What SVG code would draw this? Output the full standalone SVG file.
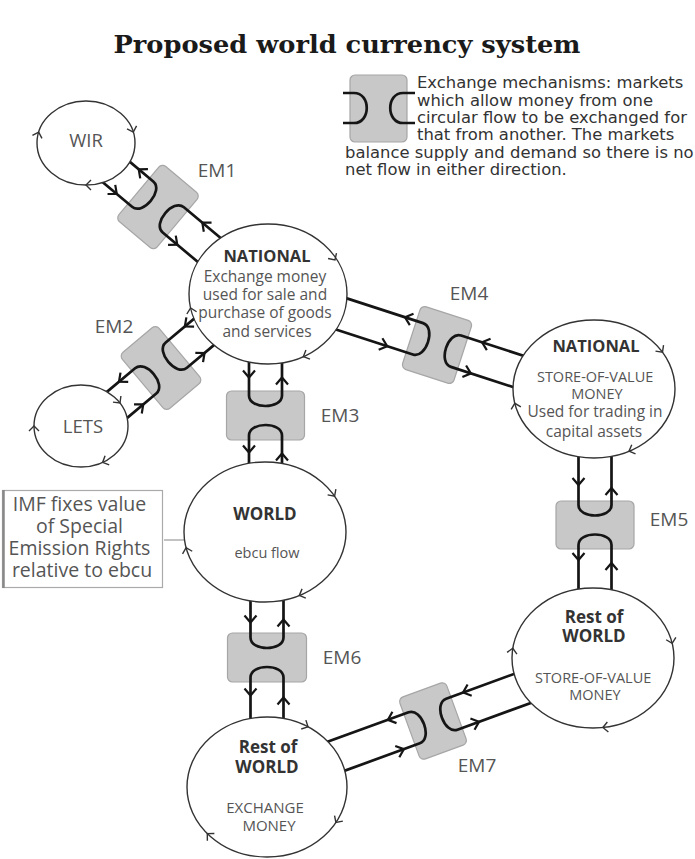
<svg xmlns="http://www.w3.org/2000/svg" xmlns:xlink="http://www.w3.org/1999/xlink" width="695" height="859" viewBox="0 0 695 859">
  <style>
    .ring { fill: #fff; stroke: #333; stroke-width: 1.4; }
    .box { fill: #c8c8c8; stroke: #a6a6a6; stroke-width: 1.2; }
    .ch { fill: none; stroke: #151515; stroke-width: 2.7; stroke-linejoin: round; }
    .t { font-family: "Open Sans", "Noto Sans", sans-serif; text-anchor: middle; fill: #555; }
    .b { font-weight: bold; fill: #333; }
    .em { font-size: 19px; fill: #555; }
    .leg { font-family: "DejaVu Sans", Verdana, sans-serif; font-size: 16.4px; fill: #333; }
  </style>
  <defs>
    <!-- channel chevrons: down (+y) and up (-y) -->
    <path id="cd" d="M-6,-7 L0,0 L6,-7" fill="none" stroke="#151515" stroke-width="2.2"/>
    <path id="cu" d="M-6,7 L0,0 L6,7" fill="none" stroke="#151515" stroke-width="2.2"/>
    <!-- circulation chevron on the rings, pointing +y before rotation -->
    <path id="rc" d="M-5,-5 L0,0 L5,-5" fill="none" stroke="#333" stroke-width="1.4"/>
  </defs>

  <rect width="695" height="859" fill="#fff"/>

  <!-- title -->
  <text x="347" y="53" text-anchor="middle" font-family="'DejaVu Serif', 'Liberation Serif', serif" font-weight="bold" font-size="25" fill="#1a1a1a" textLength="467" lengthAdjust="spacingAndGlyphs">Proposed world currency system</text>

  <!-- exchange mechanism boxes -->
  <g id="em1">
    <rect class="box" x="-36" y="-25" width="72" height="50" rx="5" transform="translate(158,207) rotate(-50)"/>
    <text class="t em" x="217" y="177">EM1</text>
  </g>
  <g id="em2">
    <rect class="box" x="-36.5" y="-24" width="73" height="48" rx="5" transform="translate(161,368) rotate(50)"/>
    <text class="t em" x="114" y="333">EM2</text>
  </g>
  <g id="em3">
    <rect class="box" x="-39" y="-24.5" width="78" height="49" rx="5" transform="translate(265.5,415.5)"/>
    <text class="t em" x="340" y="422">EM3</text>
  </g>
  <g id="em4">
    <rect class="box" x="-33" y="-27" width="66" height="54" rx="5" transform="translate(437,345) rotate(-72)"/>
    <text class="t em" x="469" y="300">EM4</text>
  </g>
  <g id="em5">
    <rect class="box" x="-39" y="-24" width="78" height="48" rx="5" transform="translate(595,525)"/>
    <text class="t em" x="669" y="526">EM5</text>
  </g>
  <g id="em6">
    <rect class="box" x="-39.5" y="-24.5" width="79" height="49" rx="5" transform="translate(267,657.5)"/>
    <text class="t em" x="342" y="664">EM6</text>
  </g>
  <g id="em7">
    <rect class="box" x="-33" y="-25" width="66" height="50" rx="5" transform="translate(433,721) rotate(-110)"/>
    <text class="t em" x="477" y="772">EM7</text>
  </g>

  <!-- flow channels: each side is a loop that turns back inside the box -->
  <g id="connectors">
    <g transform="translate(158,207) rotate(-50)">
      <path class="ch" d="M-16.5,-68 V-20 C-16.5,-6 16.5,-6 16.5,-20 V-68"/>
      <path class="ch" d="M-16.5,80 V20 C-16.5,6 16.5,6 16.5,20 V80"/>
      <use xlink:href="#cd" x="-16.5" y="-40"/>
      <use xlink:href="#cu" x="16.5" y="-39"/>
      <use xlink:href="#cd" x="-16.5" y="39"/>
      <use xlink:href="#cu" x="16.5" y="44"/>
    </g>
    <g transform="translate(161,368) rotate(50)">
      <path class="ch" d="M-16.5,-70 V-20 C-16.5,-6 16.5,-6 16.5,-20 V-70"/>
      <path class="ch" d="M-16.5,70 V20 C-16.5,6 16.5,6 16.5,20 V70"/>
      <use xlink:href="#cd" x="-16.5" y="-45"/>
      <use xlink:href="#cu" x="16.5" y="-43"/>
      <use xlink:href="#cd" x="-16.5" y="41"/>
      <use xlink:href="#cu" x="16.5" y="37"/>
    </g>
    <g transform="translate(265.5,415.5)">
      <path class="ch" d="M-16.5,-70 V-20 C-16.5,-6 16.5,-6 16.5,-20 V-70"/>
      <path class="ch" d="M-16.5,65 V20 C-16.5,6 16.5,6 16.5,20 V65"/>
      <use xlink:href="#cd" x="-16.5" y="-38"/>
      <use xlink:href="#cu" x="16.5" y="-38"/>
      <use xlink:href="#cd" x="-16.5" y="37"/>
      <use xlink:href="#cu" x="16.5" y="38"/>
    </g>
    <g transform="translate(437,345) rotate(-72)">
      <path class="ch" d="M-16.5,-105 V-20 C-16.5,-6 16.5,-6 16.5,-20 V-105"/>
      <path class="ch" d="M-16.5,100 V20 C-16.5,6 16.5,6 16.5,20 V100"/>
      <use xlink:href="#cd" x="-16.5" y="-47"/>
      <use xlink:href="#cu" x="16.5" y="-39"/>
      <use xlink:href="#cd" x="-16.5" y="41"/>
      <use xlink:href="#cu" x="16.5" y="42"/>
    </g>
    <g transform="translate(595,525)">
      <path class="ch" d="M-16.5,-80 V-20 C-16.5,-6 16.5,-6 16.5,-20 V-80"/>
      <path class="ch" d="M-16.5,78 V20 C-16.5,6 16.5,6 16.5,20 V78"/>
      <use xlink:href="#cd" x="-16.5" y="-40"/>
      <use xlink:href="#cu" x="16.5" y="-37"/>
      <use xlink:href="#cd" x="-16.5" y="35"/>
      <use xlink:href="#cu" x="16.5" y="38"/>
    </g>
    <g transform="translate(267,657.5)">
      <path class="ch" d="M-16.5,-70 V-20 C-16.5,-6 16.5,-6 16.5,-20 V-70"/>
      <path class="ch" d="M-16.5,75 V20 C-16.5,6 16.5,6 16.5,20 V75"/>
      <use xlink:href="#cd" x="-16.5" y="-35"/>
      <use xlink:href="#cu" x="16.5" y="-38"/>
      <use xlink:href="#cd" x="-16.5" y="38"/>
      <use xlink:href="#cu" x="16.5" y="40"/>
    </g>
    <g transform="translate(433,721) rotate(-110)">
      <path class="ch" d="M-16.5,-118 V-20 C-16.5,-6 16.5,-6 16.5,-20 V-118"/>
      <path class="ch" d="M-16.5,112 V20 C-16.5,6 16.5,6 16.5,20 V112"/>
      <use xlink:href="#cd" x="-16.5" y="-37"/>
      <use xlink:href="#cu" x="16.5" y="-42"/>
      <use xlink:href="#cd" x="-16.5" y="43"/>
      <use xlink:href="#cu" x="16.5" y="38"/>
    </g>
    <!-- note link to the world flow -->
    <line x1="164" y1="540" x2="184" y2="540" stroke="#999" stroke-width="1.2"/>
  </g>

  <!-- circular flows -->
  <g id="wir">
    <ellipse class="ring" cx="86" cy="143" rx="49" ry="42"/>
    <text class="t" x="86" y="147" font-size="18.5">WIR</text>
    <use xlink:href="#rc" transform="translate(38.7,132.1) rotate(-162.6)"/>
    <use xlink:href="#rc" transform="translate(133.3,132.1) rotate(-17.4)"/>
    <use xlink:href="#rc" transform="translate(86,185) rotate(90)"/>
  </g>

  <g id="national">
    <ellipse class="ring" cx="268" cy="294" rx="79" ry="70"/>
    <text class="t b" x="267" y="262" font-size="16.5">NATIONAL</text>
    <text class="t" font-size="15.5">
      <tspan x="267" y="282">Exchange money</tspan>
      <tspan x="267" y="300">used for sale and</tspan>
      <tspan x="267" y="318">purchase of goods</tspan>
      <tspan x="267" y="337">and services</tspan>
    </text>
    <use xlink:href="#rc" transform="translate(335,260) rotate(-33)"/>
    <use xlink:href="#rc" transform="translate(190.6,308) rotate(167)"/>
    <use xlink:href="#rc" transform="translate(303.4,356.6) rotate(66)"/>
  </g>

  <g id="lets">
    <ellipse class="ring" cx="81" cy="426" rx="47" ry="41"/>
    <text class="t" x="83" y="433" font-size="18.5">LETS</text>
    <use xlink:href="#rc" transform="translate(34,426) rotate(180)"/>
    <use xlink:href="#rc" transform="translate(120,403) rotate(-37.7)"/>
    <use xlink:href="#rc" transform="translate(102.6,462.4) rotate(65.6)"/>
  </g>

  <g id="national-store">
    <ellipse class="ring" cx="594" cy="389" rx="81" ry="69"/>
    <text class="t b" x="596" y="352" font-size="16.5">NATIONAL</text>
    <text class="t" font-size="14.5">
      <tspan x="597" y="382">STORE-OF-VALUE</tspan>
      <tspan x="597" y="399">MONEY</tspan>
    </text>
    <text class="t" font-size="15.5">
      <tspan x="597" y="417">Used for trading in</tspan>
      <tspan x="594" y="437">capital assets</tspan>
    </text>
    <use xlink:href="#rc" transform="translate(662.5,352.2) rotate(-36.5)"/>
    <use xlink:href="#rc" transform="translate(514.8,403.3) rotate(166)"/>
    <use xlink:href="#rc" transform="translate(629,451.2) rotate(67.8)"/>
  </g>

  <g id="world">
    <ellipse class="ring" cx="265" cy="532" rx="81" ry="70"/>
    <text class="t b" x="265" y="520" font-size="17">WORLD</text>
    <text class="t" x="267" y="558" font-size="14.5">ebcu flow</text>
    <use xlink:href="#rc" transform="translate(334.6,496.2) rotate(-34.6)"/>
    <use xlink:href="#rc" transform="translate(186.1,547.7) rotate(165)"/>
    <use xlink:href="#rc" transform="translate(299.3,595.4) rotate(68)"/>
  </g>

  <g id="rest-store">
    <ellipse class="ring" cx="593" cy="658" rx="81" ry="70"/>
    <text class="t b" x="594" y="623" font-size="17">Rest of</text>
    <text class="t b" x="594" y="642" font-size="17">WORLD</text>
    <text class="t" font-size="14.5">
      <tspan x="595" y="683">STORE-OF-VALUE</tspan>
      <tspan x="595" y="700">MONEY</tspan>
    </text>
    <use xlink:href="#rc" transform="translate(512.8,648.3) rotate(-170.7)"/>
    <use xlink:href="#rc" transform="translate(672.2,643.4) rotate(-13.8)"/>
    <use xlink:href="#rc" transform="translate(602.9,727.5) rotate(84)"/>
  </g>

  <g id="rest-exchange">
    <ellipse class="ring" cx="267" cy="787" rx="80" ry="70"/>
    <text class="t b" x="268" y="753" font-size="17">Rest of</text>
    <text class="t b" x="267" y="773" font-size="17">WORLD</text>
    <text class="t" font-size="15">
      <tspan x="267" y="813">EXCHANGE</tspan>
      <tspan x="269" y="831">MONEY</tspan>
    </text>
    <use xlink:href="#rc" transform="translate(308,726.9) rotate(-62.4)"/>
    <use xlink:href="#rc" transform="translate(335.9,822.5) rotate(34)"/>
    <use xlink:href="#rc" transform="translate(207.3,833.6) rotate(134.5)"/>
  </g>

  <!-- note box -->
  <g id="imf-note">
    <rect x="2.5" y="490.5" width="160" height="97" fill="#fff" stroke="#aaa" stroke-width="1.2"/>
    <line x1="3.5" y1="490" x2="3.5" y2="588" stroke="#888" stroke-width="2.5"/>
    <text class="t" font-size="19.5" fill="#444">
      <tspan x="82" y="511">IMF fixes value</tspan>
      <tspan x="82" y="533">of Special</tspan>
      <tspan x="82" y="555">Emission Rights</tspan>
      <tspan x="82" y="577">relative to ebcu</tspan>
    </text>
  </g>

  <!-- key -->
  <g id="legend">
    <rect class="box" x="350" y="75" width="57" height="67" rx="5"/>
    <path class="ch" d="M343,93 H354 C371,93 371,123 354,123 H343"/>
    <path class="ch" d="M415,93 H403 C386,93 386,123 403,123 H415"/>
    <text class="leg">
      <tspan x="417" y="88">Exchange mechanisms: markets</tspan>
      <tspan x="417" y="106">which allow money from one</tspan>
      <tspan x="417" y="123">circular flow to be exchanged for</tspan>
      <tspan x="417" y="140">that from another. The markets</tspan>
      <tspan x="345" y="158">balance supply and demand so there is no</tspan>
      <tspan x="345" y="175">net flow in either direction.</tspan>
    </text>
  </g>
</svg>
